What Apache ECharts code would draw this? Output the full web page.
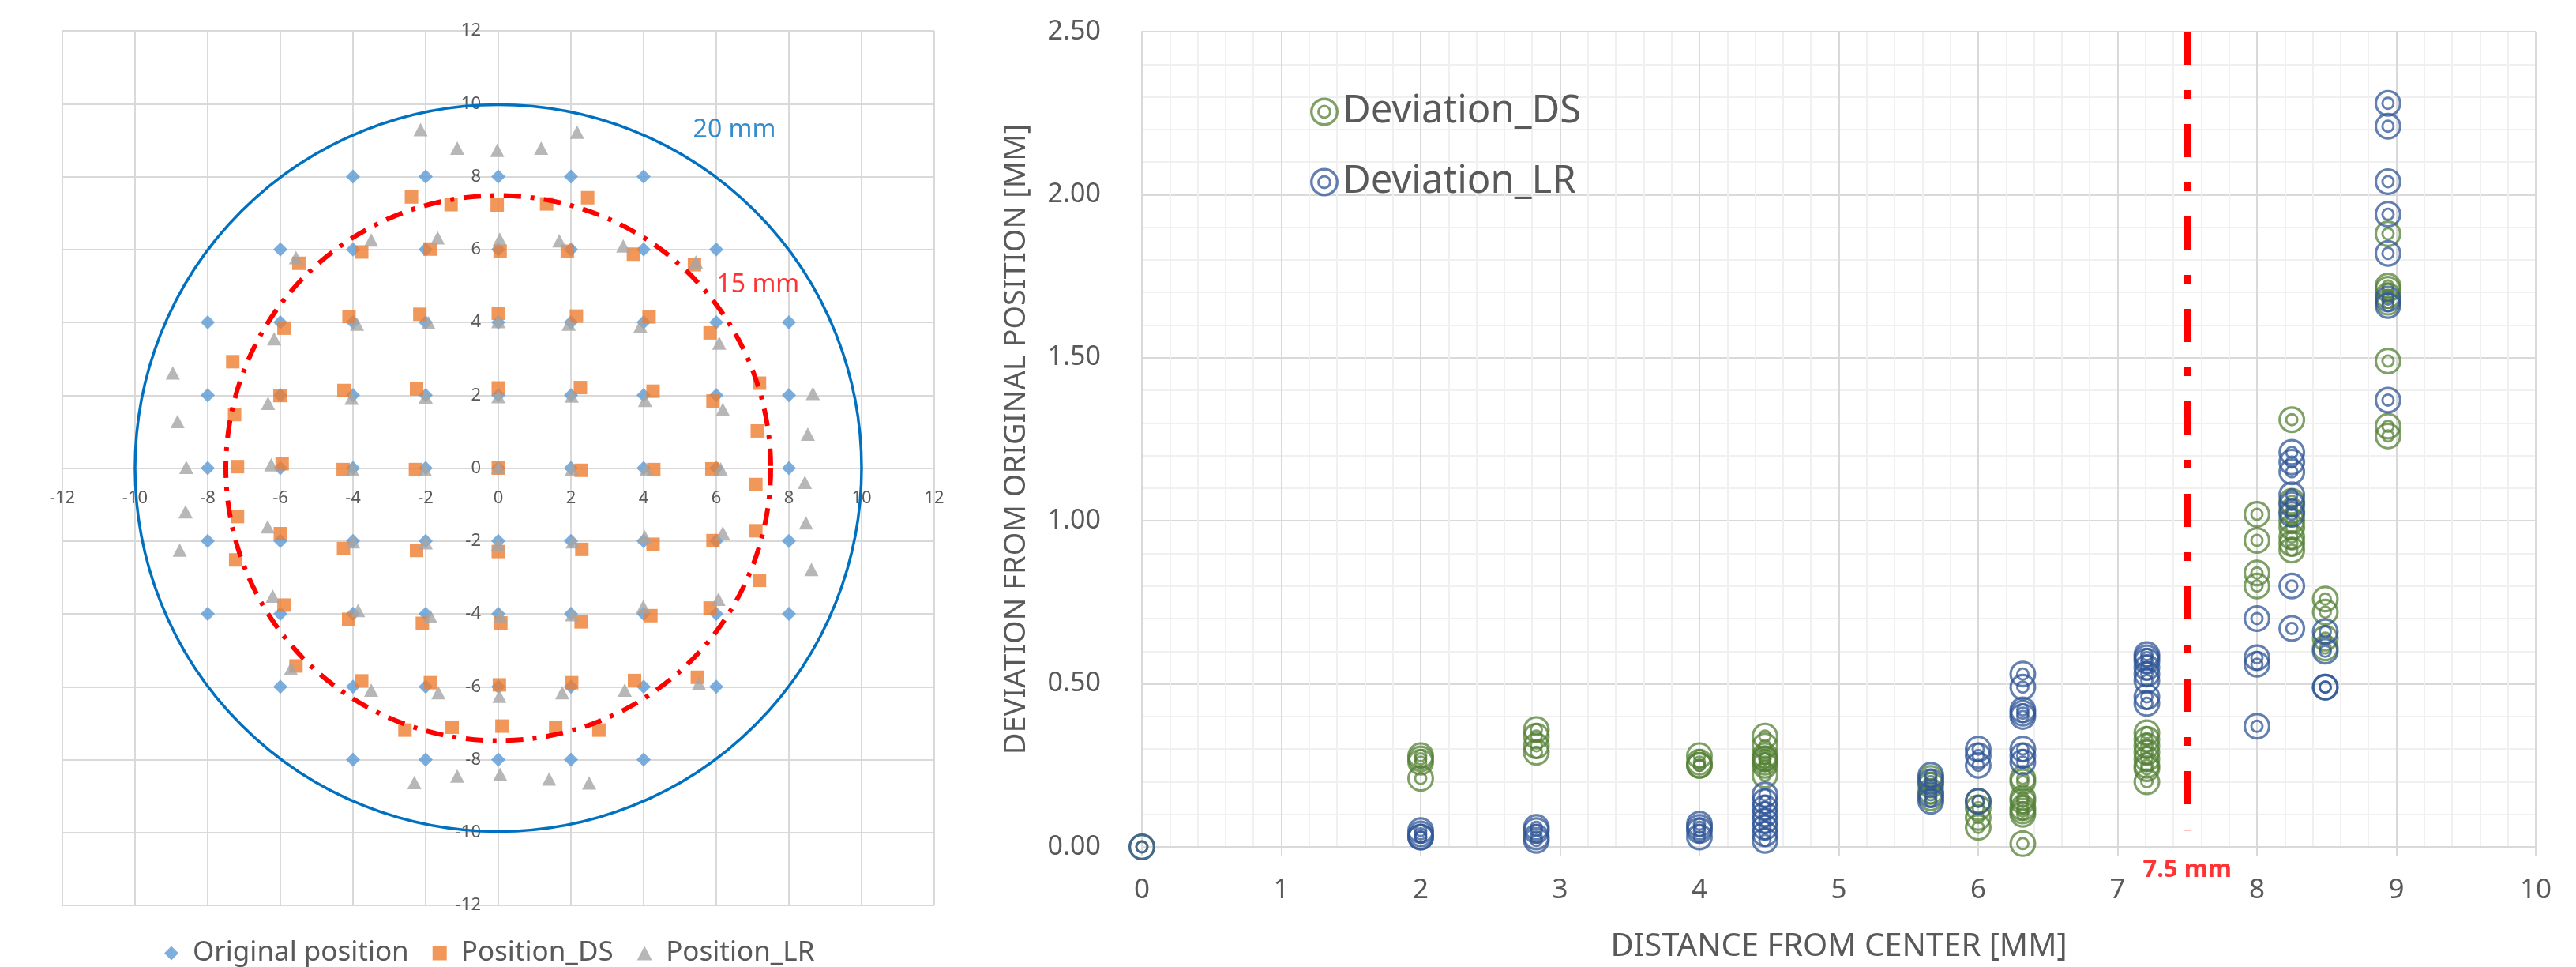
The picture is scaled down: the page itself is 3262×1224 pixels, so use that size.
<!DOCTYPE html>
<html>
<head>
<meta charset="utf-8">
<script src="https://cdn.jsdelivr.net/npm/echarts@6/dist/echarts.min.js"></script>
<style>
html,body{margin:0;padding:0;background:#fff;}
#chart{width:3262px;height:1224px;}
</style>
</head>
<body>
<div id="chart"></div>
<script>
// ---------------- LEFT CHART DATA (mm) ----------------
const origX = [-4,-2,0,2,4,
  -6,-4,-2,0,2,4,6,
  -8,-6,-4,-2,0,2,4,6,8,
  -8,-6,-4,-2,0,2,4,6,8,
  -8,-6,-4,-2,0,2,4,6,8,
  -8,-6,-4,-2,0,2,4,6,8,
  -8,-6,-4,-2,0,2,4,6,8,
  -6,-4,-2,0,2,4,6,
  -4,-2,0,2,4];
const origY = [8,8,8,8,8,
  6,6,6,6,6,6,6,
  4,4,4,4,4,4,4,4,4,
  2,2,2,2,2,2,2,2,2,
  0,0,0,0,0,0,0,0,0,
  -2,-2,-2,-2,-2,-2,-2,-2,-2,
  -4,-4,-4,-4,-4,-4,-4,-4,-4,
  -6,-6,-6,-6,-6,-6,-6,
  -8,-8,-8,-8,-8];

const dsX = [-2.39,-1.30,-0.03,-3.76,-5.49,-1.88,0.05,-4.11,-2.16,0.00,-5.90,-7.31,-6.01,-4.25,-2.25,0.00,-7.26,-7.18,-5.95,-4.27,-2.28,0.00,
  1.33,2.46,1.90,3.72,5.40,2.15,4.15,5.83,2.26,4.26,5.91,7.19,7.13,2.28,4.28,5.88,
  -7.18,-6.00,-4.26,-2.25,0.00,-7.23,-5.90,-4.12,-2.09,0.07,-5.57,-3.76,-1.87,0.03,-2.57,-1.27,0.10,
  7.09,7.09,5.91,4.26,2.30,7.19,5.83,4.20,2.28,5.48,3.75,2.02,1.58,2.77];
const dsY = [7.44,7.23,7.22,5.93,5.62,6.01,5.95,4.16,4.22,4.25,3.84,2.92,1.99,2.13,2.17,2.20,1.47,0.04,0.12,-0.04,-0.04,0.00,
  7.25,7.42,5.95,5.87,5.58,4.17,4.15,3.71,2.21,2.11,1.84,2.33,1.02,-0.06,-0.04,-0.02,
  -1.33,-1.80,-2.21,-2.26,-2.29,-2.52,-3.76,-4.15,-4.26,-4.25,-5.43,-5.84,-5.89,-5.95,-7.19,-7.11,-7.08,
  -0.45,-1.72,-1.99,-2.09,-2.23,-3.08,-3.84,-4.05,-4.22,-5.74,-5.83,-5.89,-7.13,-7.19];

const lrX = [-2.14,-1.13,-0.03,-3.50,-1.67,0.04,-5.57,-3.89,-1.92,0.00,-6.17,-8.96,-6.34,-4.04,-2.00,0.00,-8.83,-8.59,-6.25,-4.02,-2.02,0.00,
  1.18,2.17,1.68,3.44,5.44,1.94,3.91,6.08,2.02,4.04,6.18,8.66,8.52,2.02,4.07,6.12,
  -8.61,-6.35,-8.77,-4.00,-2.00,0.00,-6.21,-3.86,-1.87,0.05,-5.71,-3.50,-1.65,0.03,-2.31,-1.13,0.05,
  8.44,8.47,8.62,6.18,4.03,2.05,6.06,3.99,2.03,5.52,3.48,1.76,1.40,2.50];
const lrY = [9.29,8.78,8.72,6.26,6.32,6.28,5.78,3.95,3.99,4.02,3.55,2.61,1.78,1.92,1.95,1.96,1.28,0.02,0.09,-0.04,-0.04,0.02,
  8.78,9.22,6.24,6.10,5.66,3.95,3.89,3.43,1.98,1.86,1.61,2.05,0.93,-0.04,-0.04,-0.02,
  -1.20,-1.61,-2.25,-2.02,-2.05,-2.08,-3.51,-3.91,-4.07,-4.05,-5.50,-6.09,-6.16,-6.26,-8.63,-8.45,-8.40,
  -0.39,-1.50,-2.78,-1.78,-1.88,-2.02,-3.60,-3.80,-4.02,-5.91,-6.09,-6.16,-8.53,-8.64];

// reference circles: [centerX, centerY, radius]
const circleCX = [0, 0];
const circleCY = [0, 0];
const circleR  = [10, 7.5];
const circleNames = ['20 mm', '15 mm'];

// ---------------- RIGHT CHART DATA ----------------
const devDist = [0,
  2,2,2,2,
  2.83,2.83,2.83,2.83,
  4,4,4,4,
  4.47,4.47,4.47,4.47,4.47,4.47,4.47,4.47,
  5.66,5.66,5.66,5.66,
  6,6,6,6,
  6.32,6.32,6.32,6.32,6.32,6.32,6.32,6.32,
  7.21,7.21,7.21,7.21,7.21,7.21,7.21,7.21,
  8,8,8,8,
  8.25,8.25,8.25,8.25,8.25,8.25,8.25,8.25,
  8.49,8.49,8.49,8.49,
  8.94,8.94,8.94,8.94,8.94,8.94,8.94,8.94];
const devDS = [0,
  0.27,0.26,0.28,0.21,
  0.36,0.34,0.31,0.29,
  0.28,0.26,0.25,0.25,
  0.34,0.31,0.28,0.27,0.27,0.26,0.25,0.22,
  0.21,0.19,0.17,0.15,
  0.14,0.12,0.09,0.06,
  0.21,0.20,0.15,0.14,0.12,0.11,0.10,0.01,
  0.35,0.33,0.31,0.29,0.27,0.25,0.24,0.20,
  1.02,0.94,0.84,0.80,
  1.31,1.06,1.03,1.00,0.98,0.95,0.93,0.91,
  0.76,0.72,0.64,0.61,
  1.88,1.72,1.71,1.69,1.67,1.49,1.29,1.26];
const devLR = [0,
  0.05,0.04,0.03,0.03,
  0.06,0.05,0.03,0.02,
  0.07,0.06,0.05,0.03,
  0.16,0.14,0.12,0.10,0.08,0.06,0.04,0.02,
  0.22,0.20,0.16,0.14,
  0.30,0.28,0.25,0.14,
  0.53,0.49,0.42,0.41,0.40,0.30,0.28,0.26,
  0.59,0.58,0.57,0.55,0.53,0.51,0.46,0.44,
  0.70,0.58,0.56,0.37,
  1.21,1.18,1.15,1.08,1.05,1.02,0.80,0.67,
  0.66,0.60,0.49,0.49,
  2.28,2.21,2.04,1.94,1.82,1.68,1.66,1.37];

const limitX = [7.5, 7.5];
const limitY = [2.5, 0.05];
const limitLabel = '7.5 mm';

// ---------------- build ----------------
const zip = (a, b) => a.map((v, i) => [v, b[i]]);
const RING = 'path://M0 17A17 17 0 1 1 34 17A17 17 0 1 1 0 17Z M3.2 17A13.8 13.8 0 1 0 30.8 17A13.8 13.8 0 1 0 3.2 17Z M8.5 17A8.5 8.5 0 1 1 25.5 17A8.5 8.5 0 1 1 8.5 17Z M11.4 17A5.6 5.6 0 1 0 22.6 17A5.6 5.6 0 1 0 11.4 17Z';
const ICON_DIAMOND = 'path://M9 0L18 9L9 18L0 9Z';
const ICON_SQUARE = 'path://M1 1H17V17H1Z';
const ICON_TRIANGLE = 'path://M9 0L18 17H0Z';
const FONT = 'Noto Sans';
const GRID_C = '#d9d9d9';
const MINOR_C = '#f0f0f0';
const TXT = '#595959';

const L_W = 1104, L_H = 1107;

const circleStyles = [
  {stroke: '#0070c0', lineWidth: 3.5, lineDash: null},
  {stroke: '#ff0000', lineWidth: 6, lineDash: [22, 12, 5, 12]}
];

const chart = echarts.init(document.getElementById('chart'), null, {renderer: 'canvas'});
chart.setOption({
  backgroundColor: '#ffffff',
  animation: false,
  textStyle: {fontFamily: FONT},
  grid: [
    {left: 79, top: 39, width: L_W, height: L_H},
    {left: 1446, top: 40, width: 1765, height: 1041}
  ],
  legend: [
    {
      data: [
        {name: 'Original position', icon: ICON_DIAMOND},
        {name: 'Position_DS', icon: ICON_SQUARE},
        {name: 'Position_LR', icon: ICON_TRIANGLE}
      ],
      left: 203, top: 1184, orient: 'horizontal',
      itemWidth: 44, itemHeight: 18, itemGap: 30, symbolKeepAspect: true,
      textStyle: {fontSize: 35, color: TXT, fontFamily: FONT}
    },
    {
      data: ['Deviation_DS', 'Deviation_LR'],
      left: 1654, top: 112, orient: 'vertical',
      itemWidth: 36, itemHeight: 36, itemGap: 40,
      textStyle: {fontSize: 49, color: TXT, fontFamily: FONT}
    }
  ],
  xAxis: [
    {
      gridIndex: 0, type: 'value', min: -12, max: 12, interval: 2,
      position: 'bottom', offset: -L_H / 2,
      axisLine: {show: true, onZero: false, lineStyle: {color: GRID_C, width: 2}},
      axisTick: {show: false},
      axisLabel: {fontSize: 22, color: TXT, margin: 27, fontFamily: FONT},
      splitLine: {show: true, lineStyle: {color: GRID_C, width: 2}}
    },
    {
      gridIndex: 1, type: 'value', min: 0, max: 10, interval: 1,
      axisLine: {show: true, lineStyle: {color: GRID_C, width: 2}},
      axisTick: {show: true, length: 12, lineStyle: {color: GRID_C, width: 2}},
      axisLabel: {fontSize: 35, color: TXT, margin: 38, fontFamily: FONT},
      splitLine: {show: true, lineStyle: {color: GRID_C, width: 2}},
      minorTick: {show: false, splitNumber: 5},
      minorSplitLine: {show: true, lineStyle: {color: MINOR_C, width: 2}},
      name: 'DISTANCE FROM CENTER [MM]', nameLocation: 'middle', nameGap: 107,
      nameTextStyle: {fontSize: 40, color: TXT, fontFamily: FONT}
    }
  ],
  yAxis: [
    {
      gridIndex: 0, type: 'value', min: -12, max: 12, interval: 2,
      position: 'left', offset: -L_W / 2,
      axisLine: {show: true, onZero: false, lineStyle: {color: GRID_C, width: 2}},
      axisTick: {show: false},
      axisLabel: {fontSize: 22, color: TXT, margin: 22, fontFamily: FONT},
      splitLine: {show: true, lineStyle: {color: GRID_C, width: 2}}
    },
    {
      gridIndex: 1, type: 'value', min: 0, max: 2.5, interval: 0.5,
      axisLine: {show: true, lineStyle: {color: GRID_C, width: 2}},
      axisTick: {show: false},
      axisLabel: {fontSize: 34, color: TXT, margin: 52, fontFamily: FONT,
        formatter: v => v.toFixed(2)},
      splitLine: {show: true, lineStyle: {color: GRID_C, width: 2}},
      minorTick: {show: false, splitNumber: 5},
      minorSplitLine: {show: true, lineStyle: {color: MINOR_C, width: 2}},
      name: 'DEVIATION FROM ORIGINAL POSITION [MM]', nameLocation: 'middle', nameGap: 140,
      nameRotate: 90,
      nameTextStyle: {fontSize: 38, color: TXT, fontFamily: FONT}
    }
  ],
  series: [
    {
      name: 'Original position', type: 'scatter', xAxisIndex: 0, yAxisIndex: 0,
      symbol: 'diamond', symbolSize: 18,
      itemStyle: {color: '#5b9bd5'},
      data: zip(origX, origY), z: 2
    },
    {
      name: 'Position_DS', type: 'scatter', xAxisIndex: 0, yAxisIndex: 0,
      symbol: 'rect', symbolSize: 17,
      itemStyle: {color: '#ed7d31'},
      data: zip(dsX, dsY), z: 3
    },
    {
      name: 'Position_LR', type: 'scatter', xAxisIndex: 0, yAxisIndex: 0,
      symbol: 'triangle', symbolSize: [18, 17],
      itemStyle: {color: '#a5a5a5'},
      data: zip(lrX, lrY), z: 4
    },
    {
      name: 'circles', type: 'custom', xAxisIndex: 0, yAxisIndex: 0,
      coordinateSystem: 'cartesian2d', clip: false, z: 5, silent: true,
      data: circleR.map((r, i) => [circleCX[i], circleCY[i], r]),
      encode: {x: 0, y: 1},
      renderItem: function (params, api) {
        const c = api.coord([api.value(0), api.value(1)]);
        const r = api.size([api.value(2), 0])[0];
        const st = circleStyles[params.dataIndex];
        return {
          type: 'circle',
          shape: {cx: c[0], cy: c[1], r: r},
          style: {fill: 'none', stroke: st.stroke, lineWidth: st.lineWidth, lineDash: st.lineDash}
        };
      }
    },
    {
      name: 'circleLabels', type: 'scatter', xAxisIndex: 0, yAxisIndex: 0,
      symbolSize: 1, silent: true, z: 6,
      itemStyle: {color: 'rgba(0,0,0,0)'},
      label: {show: true, position: 'inside', fontSize: 32, fontFamily: FONT,
        formatter: p => circleNames[p.dataIndex]},
      data: [
        {value: [6.5, 9.26], label: {color: '#0070c0'}},
        {value: [7.15, 5.03], label: {color: '#ff0000'}}
      ]
    },
    {
      name: 'Deviation_DS', type: 'scatter', xAxisIndex: 1, yAxisIndex: 1,
      symbol: RING, symbolSize: 34,
      itemStyle: {color: '#548235', opacity: 0.75},
      data: zip(devDist, devDS), z: 3
    },
    {
      name: 'Deviation_LR', type: 'scatter', xAxisIndex: 1, yAxisIndex: 1,
      symbol: RING, symbolSize: 34,
      itemStyle: {color: '#2f5597', opacity: 0.75},
      data: zip(devDist, devLR), z: 4
    },
    {
      name: 'limit', type: 'line', xAxisIndex: 1, yAxisIndex: 1,
      showSymbol: false, symbol: 'none', silent: true, z: 5,
      lineStyle: {color: '#ff0000', width: 9, type: [42, 32, 11, 32]},
      data: zip(limitX, limitY)
    },
    {
      name: 'limitLabel', type: 'scatter', xAxisIndex: 1, yAxisIndex: 1,
      symbolSize: 1, silent: true, clip: false, z: 6,
      itemStyle: {color: 'rgba(0,0,0,0)'},
      label: {show: true, position: 'inside', fontSize: 31, fontWeight: 'bold',
        color: '#ff0000', fontFamily: FONT, formatter: limitLabel},
      data: [[limitX[0], -0.07]]
    }
  ]
});
</script>
</body>
</html>
